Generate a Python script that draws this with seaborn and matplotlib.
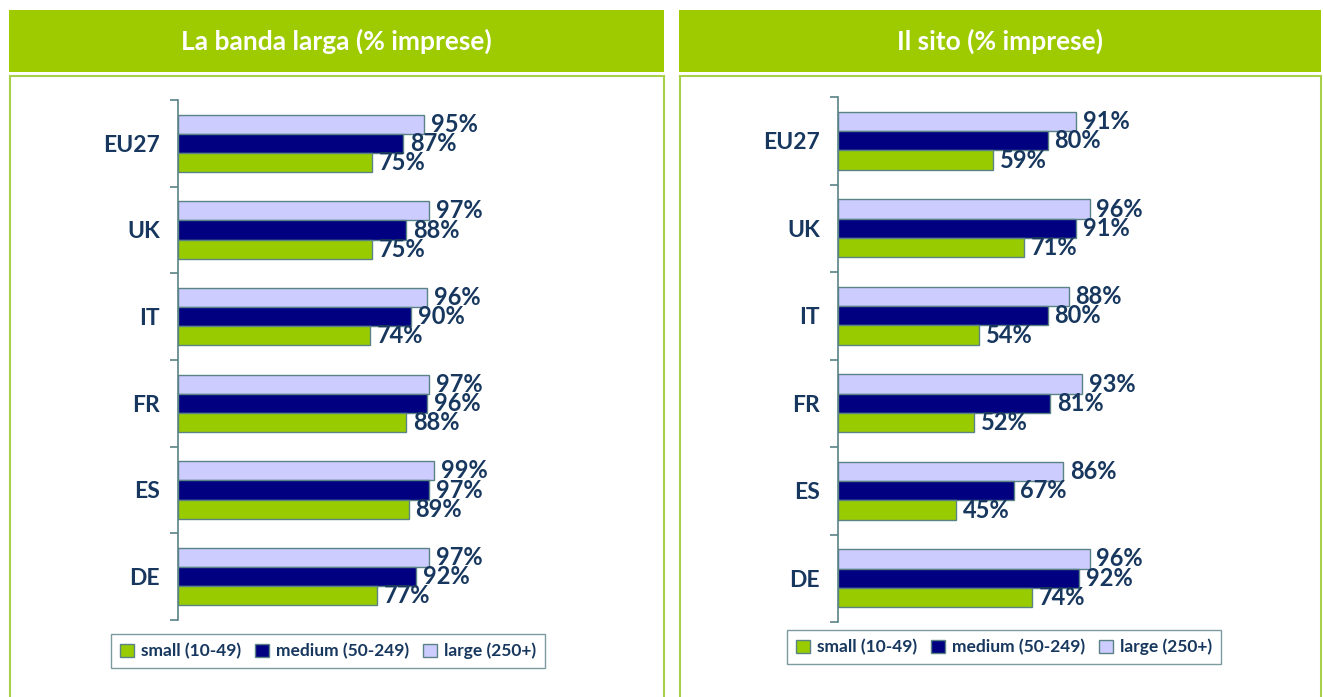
import pandas as pd
import seaborn as sns
import matplotlib.pyplot as plt
from matplotlib.patches import Rectangle, Patch

# data
countries = ['EU27', 'UK', 'IT', 'FR', 'ES', 'DE']
sizes = ['small (10-49)', 'medium (50-249)', 'large (250+)']

banda_small = [75, 75, 74, 88, 89, 77]
banda_medium = [87, 88, 90, 96, 97, 92]
banda_large = [95, 97, 96, 97, 99, 97]

sito_small = [59, 71, 54, 52, 45, 74]
sito_medium = [80, 91, 80, 81, 67, 92]
sito_large = [91, 96, 88, 93, 86, 96]

titles = ['La banda larga (% imprese)', 'Il sito (% imprese)']

colors = {'small (10-49)': '#99CC00', 'medium (50-249)': '#000080', 'large (250+)': '#CCCCFF'}
edge = '#5A8386'
txt = '#17375E'
header_green = '#9DCB00'

sns.set_theme(style='white')
plt.rcParams['font.family'] = ['Lato', 'DejaVu Sans']


def long_df(small, medium, large):
    rows = []
    for c, s, m, l in zip(countries, small, medium, large):
        rows.append((c, 'small (10-49)', s))
        rows.append((c, 'medium (50-249)', m))
        rows.append((c, 'large (250+)', l))
    return pd.DataFrame(rows, columns=['country', 'size', 'pct'])


fig = plt.figure(figsize=(13.23, 6.97), dpi=100)
W, H = 1323, 697


def px(x0, y0, x1, y1):
    return [x0 / W, 1 - y1 / H, (x1 - x0) / W, (y1 - y0) / H]


panels = [
    dict(data=long_df(banda_small, banda_medium, banda_large), title=titles[0],
         head=(9, 10, 664, 72), box=(10, 76, 664, 700), ax=(178, 100, 437, 620),
         leg=(328, 651)),
    dict(data=long_df(sito_small, sito_medium, sito_large), title=titles[1],
         head=(679, 10, 1321, 72), box=(680, 76, 1321, 700), ax=(838, 97, 1100, 622),
         leg=(1004, 647)),
]

for p in panels:
    hx0, hy0, hx1, hy1 = p['head']
    l, b, w, h = px(hx0, hy0, hx1, hy1)
    fig.patches.append(Rectangle((l, b), w, h, transform=fig.transFigure,
                                 facecolor=header_green, edgecolor='none', zorder=0))
    fig.text(l + w / 2, b + h / 2, p['title'], color='white', fontsize=19,
             fontweight='bold', ha='center', va='center')
    bx0, by0, bx1, by1 = p['box']
    l, b, w, h = px(bx0, by0, bx1, by1)
    fig.patches.append(Rectangle((l, b), w, h, transform=fig.transFigure,
                                 facecolor='none', edgecolor='#A8D04A', linewidth=1.5, zorder=0))

    ax = fig.add_axes(px(*p['ax']))
    ax.set_zorder(2)
    ax.patch.set_alpha(0)
    sns.barplot(data=p['data'], y='country', x='pct', hue='size',
                hue_order=['large (250+)', 'medium (50-249)', 'small (10-49)'],
                order=countries, palette=colors, saturation=1, width=0.66,
                edgecolor=edge, linewidth=1, orient='h', legend=False, ax=ax)
    for cont in ax.containers:
        ax.bar_label(cont, labels=[f'{v:.0f}%' for v in cont.datavalues],
                     padding=5, color=txt, fontsize=17, fontweight='bold')
    ax.set_xlim(0, 100)
    ax.set_ylim(5.5, -0.5)
    ax.set_xlabel('')
    ax.set_ylabel('')
    ax.set_xticks([])
    for s in ['top', 'right', 'bottom']:
        ax.spines[s].set_visible(False)
    ax.spines['left'].set_color(edge)
    ax.spines['left'].set_linewidth(1.2)
    ax.set_yticks(range(len(countries)))
    ax.set_yticklabels(countries, color=txt, fontsize=16.5, fontweight='bold')
    ax.set_yticks([i - 0.5 for i in range(len(countries) + 1)], minor=True)
    ax.tick_params(axis='y', which='major', length=0, pad=13)
    ax.tick_params(axis='y', which='minor', length=6, width=1.2, color=edge, direction='out', left=True)

    handles = [Patch(facecolor=colors[s], edgecolor=edge, label=s) for s in sizes]
    lx, ly = p['leg']
    leg = fig.legend(handles=handles, loc='center', bbox_to_anchor=(lx / W, 1 - ly / H),
                     ncol=3, frameon=True, fancybox=False, handlelength=0.8, handleheight=0.8,
                     handletextpad=0.4, columnspacing=0.8, borderpad=0.5,
                     prop={'size': 12.5, 'weight': 'bold'})
    leg.get_frame().set_edgecolor(edge)
    leg.get_frame().set_linewidth(1)
    for t in leg.get_texts():
        t.set_color(txt)

fig.savefig('out.png', dpi=100)
